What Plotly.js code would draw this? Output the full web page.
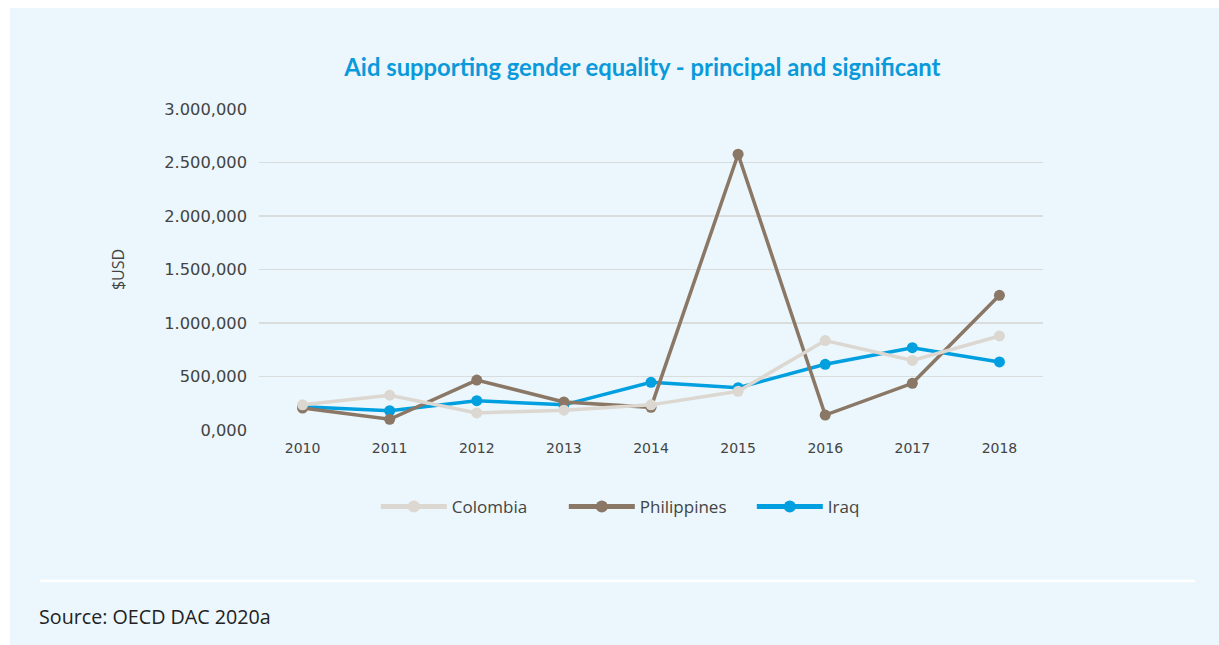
<!DOCTYPE html>
<html>
<head>
<meta charset="utf-8">
<script src="https://cdn.plot.ly/plotly-3.0.1.min.js"></script>
<style>
  html, body { margin: 0; padding: 0; background: #ffffff; width: 1219px; height: 645px; overflow: hidden; }
  #panel { position: absolute; left: 10px; top: 8px; width: 1209px; height: 637px; background: #EBF7FC; }
  #chart { position: absolute; left: 0; top: 0; width: 1219px; height: 645px; }
</style>
</head>
<body>
<div id="panel"></div>
<div id="chart"></div>
<script>
const years = ['2010', '2011', '2012', '2013', '2014', '2015', '2016', '2017', '2018'];
const colombia = [235000, 325000, 160000, 185000, 235000, 362000, 836000, 650000, 879000];
const philippines = [205000, 100000, 467000, 262000, 212000, 2577000, 140000, 436000, 1259000];
const iraq = [218000, 180000, 274000, 235000, 446000, 395000, 614000, 769000, 636000];
const tickVals = [0, 500000, 1000000, 1500000, 2000000, 2500000, 3000000];
const tickText = ['0,000', '500,000', '1.000,000', '1.500,000', '2.000,000', '2.500,000', '3.000,000'];

function trace(name, y, color, rank) {
  return {
    type: 'scatter', mode: 'lines+markers', name: name, x: years, y: y,
    line: { color: color, width: 3.5 },
    marker: { color: color, size: 11 },
    legendrank: rank
  };
}

const data = [
  trace('Iraq', iraq, '#009FDF', 3),
  trace('Philippines', philippines, '#8A7765', 2),
  trace('Colombia', colombia, '#DCD7D1', 1)
];

const layout = {
  width: 1219, height: 645,
  margin: { l: 259, r: 176, t: 109, b: 215 },
  paper_bgcolor: 'rgba(0,0,0,0)',
  plot_bgcolor: 'rgba(0,0,0,0)',
  font: { family: '"Open Sans", sans-serif', color: '#444' },
  title: {
    text: '<b>Aid supporting gender equality - principal and significant</b>',
    font: { family: 'Lato, "Open Sans", sans-serif', size: 23.8, color: '#0A9ADB' },
    x: 0.527, xanchor: 'center', y: 0.895, yanchor: 'middle'
  },
  xaxis: {
    type: 'category', range: [-0.5, 8.5],
    showgrid: false, zeroline: false, showline: false,
    ticks: '', tickfont: { family: '"DejaVu Sans", sans-serif', size: 14, color: '#444' },
    ticklabelstandoff: 8
  },
  yaxis: {
    range: [0, 3000000], tickvals: tickVals, ticktext: tickText,
    showgrid: true, gridcolor: '#DADDDE', gridwidth: 1.5,
    zeroline: false, showline: false,
    ticks: '', tickfont: { family: '"DejaVu Sans", sans-serif', size: 16.3, color: '#444' },
    ticklabelstandoff: 11,
    title: { text: '$USD', font: { family: '"Open Sans", sans-serif', size: 16, color: '#444' }, standoff: 35 }
  },
  showlegend: true,
  legend: {
    orientation: 'h', x: 0.149, xanchor: 'left', y: -0.24, yanchor: 'middle',
    font: { family: '"Open Sans", sans-serif', size: 17, color: '#444' },
    bgcolor: 'rgba(0,0,0,0)', itemwidth: 66,
    entrywidth: 107, entrywidthmode: 'pixels',
    traceorder: 'normal', itemsizing: 'constant'
  },
  shapes: [
    { type: 'line', xref: 'paper', yref: 'paper',
      x0: (40 - 259) / 784, x1: (1195 - 259) / 784,
      y0: (430 - 581) / 321, y1: (430 - 581) / 321,
      line: { color: '#ffffff', width: 2.5 } }
  ],
  annotations: [
    { xref: 'paper', yref: 'paper', x: (37 - 259) / 784, y: (430 - 616) / 321,
      xanchor: 'left', yanchor: 'middle', showarrow: false,
      text: 'Source: OECD DAC 2020a',
      font: { family: '"Open Sans", sans-serif', size: 19.7, color: '#222' } }
  ]
};

Plotly.newPlot('chart', data, layout, { displayModeBar: false, staticPlot: true });
</script>
</body>
</html>
